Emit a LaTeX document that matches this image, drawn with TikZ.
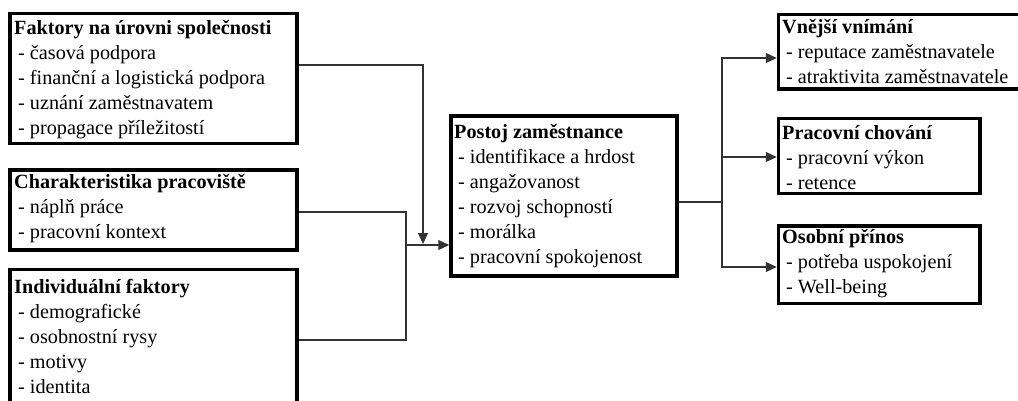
\documentclass[tikz,border=0pt]{standalone}
\usepackage{fontspec}
\setmainfont{Liberation Serif}
\usetikzlibrary{arrows.meta}
\newcommand\dashitem{\hspace*{4pt}- }
\begin{document}
\begin{tikzpicture}[x=1pt,y=-1pt,
  frame/.style 2 args={draw, line width=3.5pt, inner sep=0pt,
    minimum width=#1, minimum height=#2},
  txt/.style={anchor=north west, inner sep=0pt, align=left,
    font=\fontsize{20.2}{25}\selectfont},
  conn/.style={draw=black!80, line width=1.1pt},
  tip/.style={-{Triangle[length=11pt,width=10pt]}}]
\useasboundingbox (0,0) rectangle (1018,401);
\fill[white] (0,0) rectangle (1018,401);
\clip (0,0) rectangle (1018,401);

% boxes (centre, size of the border line)
\node[frame={287pt}{130pt}]   (fac) at (153.5,78.5)  {};
\node[frame={287pt}{80pt}]    (cha) at (153.5,210)   {};
\node[frame={287pt}{160.5pt}] (ind) at (153.5,349.75) {};
\node[frame={226pt}{160pt}]   (pos) at (564,196)     {};
\node[frame={261.5pt}{74.5pt}](vne) at (909.25,51.75) {};
\node[frame={201.5pt}{75pt}]  (pch) at (879.25,156)  {};
\node[frame={201.5pt}{77.5pt}](oso) at (879.25,264.75) {};

% box texts (first baseline 17.5pt below the node top)
\node[txt] (facT) at (14,17) {\strut\textbf{Faktory na úrovni společnosti}\\
  \dashitem časová podpora\\ \dashitem finanční a logistická podpora\\
  \dashitem uznání zaměstnavatem\\ \dashitem propagace příležitostí};
\node[txt] (chaT) at (14,171) {\strut\textbf{Charakteristika pracoviště}\\
  \dashitem náplň práce\\ \dashitem pracovní kontext};
\node[txt] (indT) at (14,275.5) {\strut\textbf{Individuální faktory}\\
  \dashitem demografické\\ \dashitem osobnostní rysy\\
  \dashitem motivy\\ \dashitem identita};
\node[txt] (posT) at (454,121) {\strut\textbf{Postoj zaměstnance}\\
  \dashitem identifikace a hrdost\\ \dashitem angažovanost\\
  \dashitem rozvoj schopností\\ \dashitem morálka\\
  \dashitem pracovní spokojenost};
\node[txt] (vneT) at (782,15.5) {\strut\textbf{Vnější vnímání}\\
  \dashitem reputace zaměstnavatele\\ \dashitem atraktivita zaměstnavatele};
\node[txt] (pchT) at (782,121.5) {\strut\textbf{Pracovní chování}\\
  \dashitem pracovní výkon\\ \dashitem retence};
\node[txt] (osoT) at (782,226) {\strut\textbf{Osobní přínos}\\
  \dashitem potřeba uspokojení\\ \dashitem Well-being};

% junctions
\coordinate (jTop) at (423,244);
\coordinate (jL) at (406,245);
\coordinate (jR) at (722,202);

% inputs
\draw[conn, tip] ([yshift=13.5pt]fac.east) -| (jTop);
\draw[conn] ([yshift=-2pt]cha.east) -| (jL) |- ([yshift=9.75pt]ind.east);
\draw[conn, tip] (jL) -- ([yshift=-49pt]pos.west);

% outputs
\draw[conn] ([yshift=-6pt]pos.east) -- (jR);
\draw[conn, tip] (jR) |- ([yshift=-6.25pt]vne.west);
\draw[conn, tip] (jR) |- ([yshift=-1pt]pch.west);
\draw[conn, tip] (jR) |- ([yshift=-2.25pt]oso.west);
\end{tikzpicture}
\end{document}
